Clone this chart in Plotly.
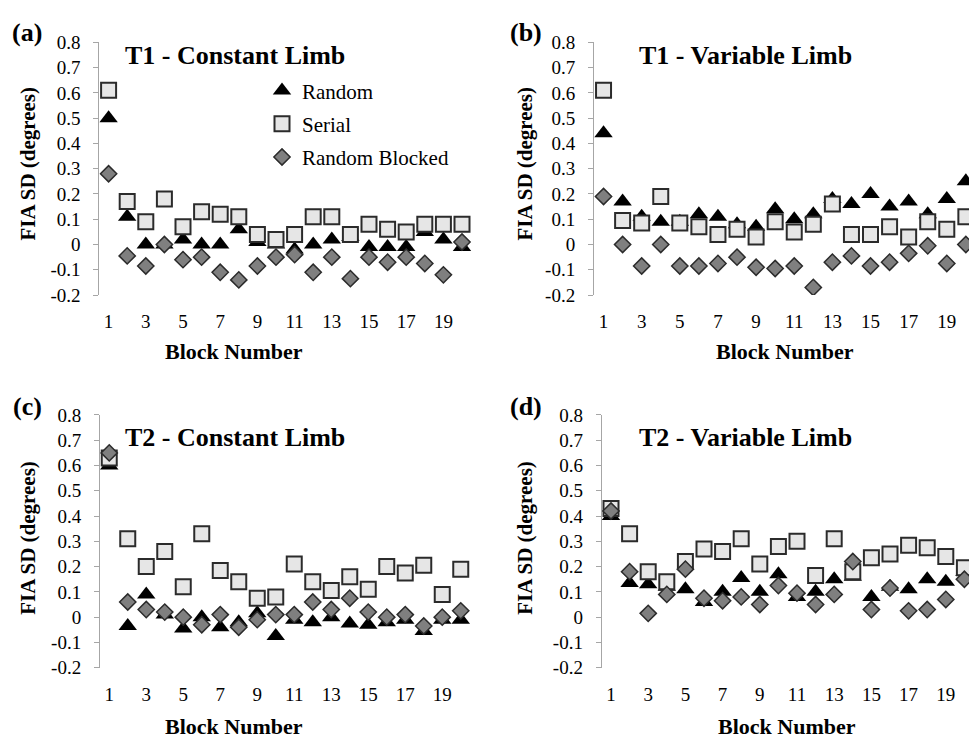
import plotly.graph_objects as go

W, H = 969, 747

# ---------------- data ----------------
blocks = list(range(1, 21))
xtick_vals = list(range(1, 20, 2))
xtick_text = [str(v) for v in xtick_vals]
ytick_vals = [-0.2, -0.1, 0.0, 0.1, 0.2, 0.3, 0.4, 0.5, 0.6, 0.7, 0.8]
ytick_text = ["-0.2", "-0.1", "0", "0.1", "0.2", "0.3", "0.4", "0.5", "0.6", "0.7", "0.8"]
series_names = ["Random", "Serial", "Random Blocked"]
panel_labels = ["(a)", "(b)", "(c)", "(d)"]
panel_titles = ["T1 - Constant Limb", "T1 - Variable Limb", "T2 - Constant Limb", "T2 - Variable Limb"]
x_title = "Block Number"
y_title = "FIA SD (degrees)"

t1_const_random = [0.50, 0.11, 0.00, 0.00, 0.02, 0.00, 0.00, 0.06, 0.01, 0.00,
                   -0.02, 0.00, 0.02, 0.03, -0.01, -0.01, -0.01, 0.05, 0.02, -0.01]
t1_const_serial = [0.61, 0.17, 0.09, 0.18, 0.07, 0.13, 0.12, 0.11, 0.04, 0.02,
                   0.04, 0.11, 0.11, 0.04, 0.08, 0.06, 0.05, 0.08, 0.08, 0.08]
t1_const_rblocked = [0.28, -0.045, -0.085, 0.00, -0.06, -0.05, -0.11, -0.14, -0.085, -0.05,
                     -0.04, -0.11, -0.05, -0.135, -0.05, -0.07, -0.05, -0.075, -0.12, 0.01]

t1_var_random = [0.44, 0.17, 0.11, 0.09, 0.09, 0.12, 0.11, 0.08, 0.07, 0.14,
                 0.10, 0.12, 0.18, 0.16, 0.20, 0.15, 0.17, 0.12, 0.18, 0.25]
t1_var_serial = [0.61, 0.095, 0.085, 0.19, 0.085, 0.07, 0.04, 0.06, 0.03, 0.09,
                 0.05, 0.08, 0.16, 0.04, 0.04, 0.07, 0.03, 0.09, 0.06, 0.11]
t1_var_rblocked = [0.19, 0.00, -0.085, 0.00, -0.085, -0.085, -0.075, -0.05, -0.09, -0.095,
                   -0.085, -0.17, -0.07, -0.045, -0.085, -0.07, -0.035, -0.005, -0.075, 0.00]

t2_const_random = [0.60, -0.035, 0.09, 0.01, -0.045, 0.00, -0.04, -0.02, 0.015, -0.075,
                   -0.01, -0.02, 0.00, -0.025, -0.03, -0.02, -0.01, -0.055, -0.01, -0.01]
t2_const_serial = [0.63, 0.31, 0.20, 0.26, 0.12, 0.33, 0.185, 0.14, 0.075, 0.08,
                   0.21, 0.14, 0.105, 0.16, 0.11, 0.20, 0.175, 0.205, 0.09, 0.19]
t2_const_rblocked = [0.65, 0.06, 0.03, 0.02, 0.00, -0.03, 0.01, -0.04, -0.01, 0.01,
                     0.01, 0.06, 0.03, 0.075, 0.02, 0.00, 0.01, -0.035, 0.00, 0.025]

t2_var_random = [0.40, 0.135, 0.13, 0.12, 0.11, 0.06, 0.10, 0.155, 0.10, 0.17,
                 0.08, 0.10, 0.15, 0.16, 0.08, 0.12, 0.11, 0.15, 0.14, 0.18]
t2_var_serial = [0.43, 0.33, 0.18, 0.14, 0.22, 0.27, 0.26, 0.31, 0.21, 0.28,
                 0.30, 0.165, 0.31, 0.18, 0.235, 0.25, 0.285, 0.275, 0.24, 0.195]
t2_var_rblocked = [0.42, 0.18, 0.015, 0.09, 0.19, 0.075, 0.065, 0.08, 0.05, 0.125,
                   0.095, 0.05, 0.09, 0.22, 0.03, 0.115, 0.025, 0.03, 0.07, 0.15]

panel_data = [
    [t1_const_random, t1_const_serial, t1_const_rblocked],
    [t1_var_random, t1_var_serial, t1_var_rblocked],
    [t2_const_random, t2_const_serial, t2_const_rblocked],
    [t2_var_random, t2_var_serial, t2_var_rblocked],
]

# ---------------- layout geometry (pixels) ----------------
geom = [
    dict(x0=99.3, x1=471.3, y0=33.3, y1=293.3, xmax=20.5,
         lab=(27, 23), tit=(235, 47), xt=(234, 351), yt=(28, 158)),
    dict(x0=594.0, x1=969.0, y0=33.3, y1=293.3, xmax=0.5 + (969 - 594.0) / 19.07,
         lab=(526, 23), tit=(745, 47), xt=(785, 351), yt=(525, 158)),
    dict(x0=100.0, x1=470.0, y0=416.7, y1=676.7, xmax=20.5,
         lab=(27, 408), tit=(235, 440), xt=(234, 737), yt=(28, 543)),
    dict(x0=601.7, x1=969.0, y0=416.7, y1=676.7, xmax=0.5 + (969 - 601.7) / 18.6,
         lab=(526, 408), tit=(745, 440), xt=(787, 737), yt=(525, 543)),
]

FONT = "'Liberation Serif', 'Times New Roman', Times, 'DejaVu Serif', serif"
AXIS_GRAY = "#a6a6a6"


def fx(px):
    return px / W


def fy(py):
    return 1 - py / H


markers = [
    dict(symbol="triangle-up", size=16, color="#000000", line=dict(width=0)),
    dict(symbol="square", size=15, color="#e6e6e6", line=dict(color="#2b2b2b", width=2)),
    dict(symbol="diamond", size=12.5, color="#7f7f7f", line=dict(color="#2b2b2b", width=1.5)),
]

fig = go.Figure()
annotations = []
layout_axes = {}

for i, (g, series) in enumerate(zip(geom, panel_data)):
    n = i + 1
    xa = "x" if n == 1 else f"x{n}"
    ya = "y" if n == 1 else f"y{n}"
    for k, (name, vals) in enumerate(zip(series_names, series)):
        fig.add_trace(go.Scatter(
            x=blocks, y=vals, mode="markers", name=name,
            marker=markers[k], xaxis=xa, yaxis=ya,
            showlegend=(i == 0), legendgroup=f"g{k}", legendrank=k + 1,
            hoverinfo="skip",
        ))
    xdom = [fx(g["x0"]), fx(g["x1"])]
    ydom = [fy(g["y1"]), fy(g["y0"])]
    xkey = "xaxis" if n == 1 else f"xaxis{n}"
    ykey = "yaxis" if n == 1 else f"yaxis{n}"
    layout_axes[xkey] = dict(
        domain=xdom, range=[0.5, g["xmax"]], anchor=ya,
        showgrid=False, zeroline=False, showline=False,
        tickmode="array", tickvals=xtick_vals, ticktext=xtick_text,
        ticks="", ticklabelstandoff=13,
        tickfont=dict(family=FONT, size=19, color="#000"),
    )
    layout_axes[ykey] = dict(
        domain=ydom, range=[-0.2, 0.8], anchor=xa,
        showgrid=False, zeroline=False, showline=True,
        linecolor=AXIS_GRAY, linewidth=1,
        tickmode="array", tickvals=ytick_vals, ticktext=ytick_text,
        ticks="outside", ticklen=5, tickcolor=AXIS_GRAY, ticklabelstandoff=9,
        tickfont=dict(family=FONT, size=19, color="#000"),
    )
    # overlay axis drawn at y = 0, with category boundary tick marks
    okey = f"xaxis{n + 4}"
    zero_pos = ydom[0] + (0 - (-0.2)) / (0.8 - (-0.2)) * (ydom[1] - ydom[0])
    layout_axes[okey] = dict(
        overlaying=xa, anchor="free", position=zero_pos, side="bottom",
        domain=xdom, range=[0.5, g["xmax"]],
        showgrid=False, zeroline=False, showline=True,
        linecolor=AXIS_GRAY, linewidth=1,
        tickmode="array", tickvals=[b - 0.5 for b in blocks] + [blocks[-1] + 0.5],
        ticks="outside", ticklen=5, tickcolor=AXIS_GRAY, showticklabels=False,
    )
    annotations += [
        dict(text=f"<b>{panel_labels[i]}</b>", x=fx(g["lab"][0]), y=fy(g["lab"][1]),
             xref="paper", yref="paper", showarrow=False,
             xanchor="center", yanchor="middle",
             font=dict(family=FONT, size=26, color="#000")),
        dict(text=f"<b>{panel_titles[i]}</b>", x=fx(g["tit"][0]), y=fy(g["tit"][1]),
             xref="paper", yref="paper", showarrow=False,
             xanchor="center", yanchor="middle",
             font=dict(family=FONT, size=26, color="#000")),
        dict(text=f"<b>{x_title}</b>", x=fx(g["xt"][0]), y=fy(g["xt"][1]),
             xref="paper", yref="paper", showarrow=False,
             xanchor="center", yanchor="middle",
             font=dict(family=FONT, size=22, color="#000")),
        dict(text=f"<b>{y_title}</b>", x=fx(g["yt"][0]), y=fy(g["yt"][1]),
             xref="paper", yref="paper", showarrow=False, textangle=-90,
             xanchor="center", yanchor="middle",
             font=dict(family=FONT, size=21, color="#000")),
    ]

fig.update_layout(
    width=W, height=H,
    margin=dict(l=0, r=0, t=0, b=0),
    paper_bgcolor="#ffffff", plot_bgcolor="rgba(0,0,0,0)",
    annotations=annotations,
    showlegend=True,
    legend=dict(
        x=fx(262), y=fy(62), xanchor="left", yanchor="top",
        font=dict(family=FONT, size=21, color="#000"),
        bgcolor="rgba(0,0,0,0)", tracegroupgap=3, itemsizing="trace",
    ),
    **layout_axes,
)

fig.write_html("out.html")
